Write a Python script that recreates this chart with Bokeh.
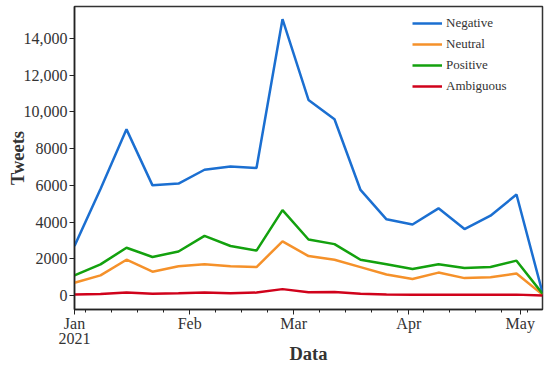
import pandas as pd
from bokeh.plotting import figure
from bokeh.models import FixedTicker, Legend, LegendItem, Range1d
from bokeh.embed import file_html
from bokeh.resources import INLINE

dates = ["2021-01-01", "2021-01-08", "2021-01-15", "2021-01-22", "2021-01-29",
         "2021-02-05", "2021-02-12", "2021-02-19", "2021-02-26", "2021-03-05",
         "2021-03-12", "2021-03-19", "2021-03-26", "2021-04-02", "2021-04-09",
         "2021-04-16", "2021-04-23", "2021-04-30", "2021-05-07"]
negative = [2700, 5800, 9050, 6000, 6100, 6850, 7030, 6950, 15050, 10650,
            9600, 5750, 4150, 3870, 4750, 3620, 4350, 5500, 150]
neutral = [700, 1100, 1950, 1300, 1600, 1700, 1600, 1550, 2950, 2150,
           1950, 1550, 1150, 900, 1250, 950, 1000, 1200, 50]
positive = [1100, 1700, 2600, 2100, 2400, 3250, 2700, 2450, 4650, 3050,
            2800, 1950, 1700, 1450, 1700, 1500, 1550, 1900, 100]
ambiguous = [60, 80, 170, 100, 120, 170, 120, 160, 350, 180,
             190, 100, 60, 50, 50, 50, 50, 50, 0]

series_names = ["Negative", "Neutral", "Positive", "Ambiguous"]
series_colors = ["#1b6fd1", "#f5912a", "#13a10e", "#d0021b"]

month_ticks = ["2021-01-01", "2021-02-01", "2021-03-01", "2021-04-01", "2021-05-01"]
month_labels = ["Jan\n2021", "Feb", "Mar", "Apr", "May"]
y_ticks = [0, 2000, 4000, 6000, 8000, 10000, 12000, 14000]
y_labels = ["0", "2000", "4000", "6000", "8000", "10,000", "12,000", "14,000"]
x_title = "Data"
y_title = "Tweets"


def to_ms(d):
    return pd.Timestamp(d).value // 10**6


x = [to_ms(d) for d in dates]
mt = [to_ms(d) for d in month_ticks]
minor = [to_ms(d) for d in pd.date_range("2021-01-04", "2021-05-03", freq="7D")]

FONT = "Liberation Serif"
TXT = "#333333"

p = figure(width=550, height=367, output_backend="svg", toolbar_location=None,
           x_range=Range1d(x[0], x[-1]), y_range=Range1d(-760, 15740),
           min_border_left=74, min_border_right=8, min_border_top=6, min_border_bottom=58)
p.background_fill_color = "white"
p.border_fill_color = "white"
p.outline_line_color = "#333333"
p.outline_line_width = 1.5
p.xgrid.visible = False
p.ygrid.visible = False

renderers = []
for vals, col in zip([negative, neutral, positive, ambiguous], series_colors):
    r = p.line(x, vals, line_color=col, line_width=2.5)
    renderers.append(r)

legend = Legend(items=[LegendItem(label=n, renderers=[r]) for n, r in zip(series_names, renderers)],
                location=(338, 213), padding=0, margin=0, spacing=1,
                glyph_width=30, glyph_height=20, label_height=20, label_standoff=4,
                label_text_font=FONT, label_text_font_size="13px", label_text_color=TXT,
                background_fill_alpha=0, border_line_alpha=0)
p.add_layout(legend, "center")

xa = p.xaxis[0]
xa.ticker = FixedTicker(ticks=mt, minor_ticks=minor)
xa.major_label_overrides = {t: l for t, l in zip(mt, month_labels)}
xa.axis_label = x_title
ya = p.yaxis[0]
ya.ticker = FixedTicker(ticks=y_ticks)
ya.major_label_overrides = {t: l for t, l in zip(y_ticks, y_labels)}
ya.axis_label = y_title

for ax in (xa, ya):
    ax.axis_line_color = "#222222"
    ax.axis_line_width = 1.5
    ax.major_tick_line_color = "#222222"
    ax.minor_tick_line_color = "#222222"
    ax.major_tick_in = 0
    ax.major_tick_out = 5
    ax.minor_tick_in = 0
    ax.minor_tick_out = 3
    ax.major_label_text_font = FONT
    ax.major_label_text_font_size = "16px"
    ax.major_label_text_color = TXT
    ax.axis_label_text_font = FONT
    ax.axis_label_text_font_size = "18.5px"
    ax.axis_label_text_font_style = "bold"
    ax.axis_label_text_color = TXT
ya.minor_tick_out = 0
ya.major_label_standoff = 2
xa.major_label_standoff = 0
xa.major_label_text_line_height = 0.9
xa.axis_label_text_line_height = 0.9
xa.axis_label_standoff = -6
ya.axis_label_standoff = -7

open("out.html", "w").write(file_html(p, INLINE))
